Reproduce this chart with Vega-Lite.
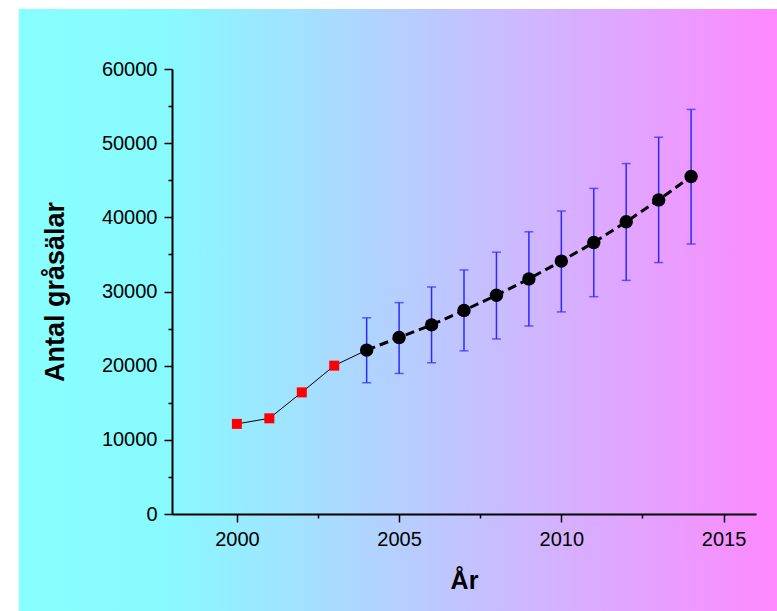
{
  "$schema": "https://vega.github.io/schema/vega-lite/v6.json",
  "width": 584,
  "height": 445,
  "autosize": {"type": "none"},
  "padding": {"left": 172, "top": 69, "right": 21, "bottom": 97},
  "background": "white",
  "config": {
    "view": {"stroke": null},
    "axis": {
      "grid": false,
      "domainColor": "black",
      "domainWidth": 2,
      "tickColor": "black",
      "tickWidth": 1.5,
      "labelFont": "Liberation Sans",
      "labelFontSize": 20,
      "labelColor": "black",
      "titleFont": "Liberation Sans",
      "titleFontWeight": "bold",
      "titleColor": "black",
      "labelOverlap": false,
      "labelFlush": false
    }
  },
  "data": {
    "values": [
      {"year": 2000, "count": 12150},
      {"year": 2001, "count": 12900},
      {"year": 2002, "count": 16400},
      {"year": 2003, "count": 20000},
      {"year": 2004, "count": 22100, "lo": 17700, "hi": 26450},
      {"year": 2005, "count": 23800, "lo": 18950, "hi": 28500},
      {"year": 2006, "count": 25500, "lo": 20400, "hi": 30600},
      {"year": 2007, "count": 27450, "lo": 22000, "hi": 32900},
      {"year": 2008, "count": 29500, "lo": 23600, "hi": 35300},
      {"year": 2009, "count": 31700, "lo": 25350, "hi": 38050},
      {"year": 2010, "count": 34100, "lo": 27250, "hi": 40850},
      {"year": 2011, "count": 36600, "lo": 29300, "hi": 43900},
      {"year": 2012, "count": 39400, "lo": 31500, "hi": 47250},
      {"year": 2013, "count": 42350, "lo": 33900, "hi": 50800},
      {"year": 2014, "count": 45500, "lo": 36400, "hi": 54550}
    ]
  },
  "encoding": {
    "x": {
      "field": "year",
      "type": "quantitative",
      "scale": {"domain": [1998, 2016], "nice": false, "zero": false},
      "axis": {
        "title": "År",
        "titleFontSize": 25,
        "titlePadding": 19,
        "values": [2000, 2002.5, 2005, 2007.5, 2010, 2012.5, 2015],
        "format": "d",
        "labelExpr": "datum.value % 5 === 0 ? datum.label : ''",
        "tickSize": {"condition": {"test": "datum.value % 5 === 0", "value": 8}, "value": 4},
        "labelPadding": 7,
        "zindex": 2
      }
    },
    "y": {
      "field": "count",
      "type": "quantitative",
      "scale": {"domain": [0, 60000], "nice": false},
      "axis": {
        "title": "Antal gråsälar",
        "titleFontSize": 27,
        "titlePadding": 32,
        "values": [0, 5000, 10000, 15000, 20000, 25000, 30000, 35000, 40000, 45000, 50000, 55000, 60000],
        "format": "d",
        "labelExpr": "datum.value % 10000 === 0 ? datum.label : ''",
        "tickSize": {"condition": {"test": "datum.value % 10000 === 0", "value": 8}, "value": 4},
        "labelPadding": 7,
        "zindex": 2
      }
    }
  },
  "layer": [
    {
      "mark": {
        "type": "rect",
        "clip": false,
        "fill": {
          "gradient": "linear",
          "x1": 0, "y1": 0, "x2": 1, "y2": 0,
          "stops": [
            {"offset": 0, "color": "#88ffff"},
            {"offset": 0.19, "color": "#88faff"},
            {"offset": 1, "color": "#ff88ff"}
          ]
        }
      },
      "transform": [{"filter": "datum.year === 2000"}],
      "encoding": {
        "x": {"datum": 1993.28, "type": "quantitative"},
        "x2": {"datum": 2016.8},
        "y": {"datum": -13300, "type": "quantitative"},
        "y2": {"datum": 68090}
      }
    },
    {
      "transform": [{"filter": "datum.year <= 2004"}],
      "mark": {"type": "line", "color": "black", "strokeWidth": 1}
    },
    {
      "transform": [{"filter": "datum.year >= 2004"}],
      "mark": {"type": "line", "color": "black", "strokeWidth": 3, "strokeDash": [9, 5]}
    },
    {
      "transform": [{"filter": "datum.year >= 2004"}],
      "mark": {
        "type": "errorbar",
        "color": "#2a2aff",
        "ticks": {"size": 9, "thickness": 1.5},
        "rule": {"strokeWidth": 1.5}
      },
      "encoding": {
        "y": {"field": "lo", "type": "quantitative", "title": "Antal gråsälar"},
        "y2": {"field": "hi"}
      }
    },
    {
      "transform": [{"filter": "datum.year <= 2003"}],
      "mark": {"type": "point", "shape": "square", "filled": true, "color": "#ff0000", "size": 100, "opacity": 1}
    },
    {
      "transform": [{"filter": "datum.year >= 2004"}],
      "mark": {"type": "point", "shape": "circle", "filled": true, "color": "black", "size": 180, "opacity": 1}
    }
  ]
}
